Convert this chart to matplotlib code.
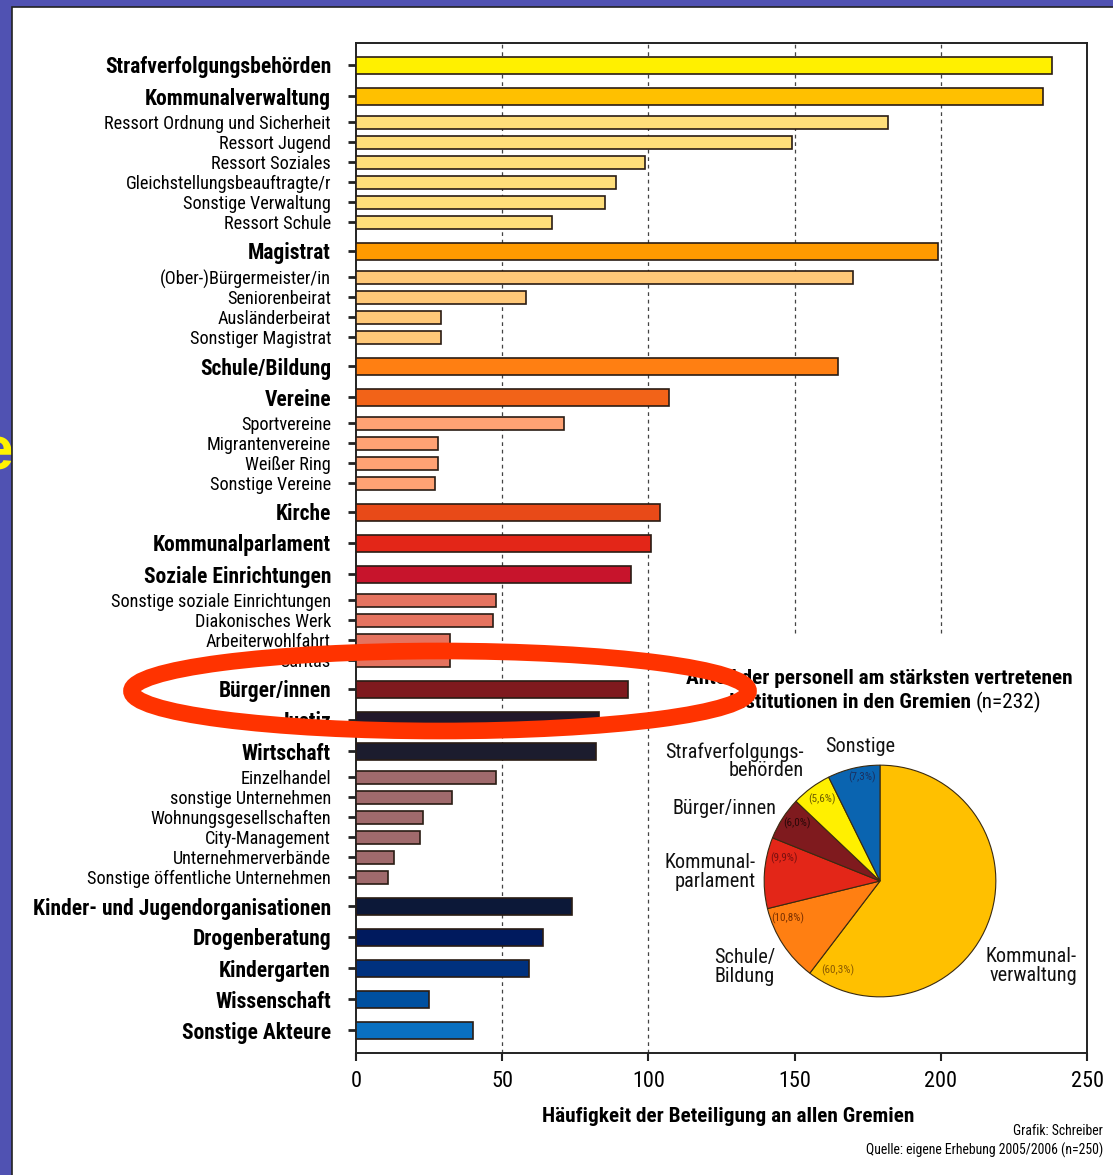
import matplotlib
matplotlib.use('Agg')
import matplotlib.pyplot as plt
from matplotlib import font_manager
from matplotlib.patches import Rectangle, Ellipse

# ---------------- data ----------------
categories = [
    "Strafverfolgungsbehörden", "Kommunalverwaltung", "Ressort Ordnung und Sicherheit",
    "Ressort Jugend", "Ressort Soziales", "Gleichstellungsbeauftragte/r",
    "Sonstige Verwaltung", "Ressort Schule", "Magistrat", "(Ober-)Bürgermeister/in",
    "Seniorenbeirat", "Ausländerbeirat", "Sonstiger Magistrat", "Schule/Bildung",
    "Vereine", "Sportvereine", "Migrantenvereine", "Weißer Ring", "Sonstige Vereine",
    "Kirche", "Kommunalparlament", "Soziale Einrichtungen",
    "Sonstige soziale Einrichtungen", "Diakonisches Werk", "Arbeiterwohlfahrt",
    "Caritas", "Bürger/innen", "Justiz", "Wirtschaft", "Einzelhandel",
    "sonstige Unternehmen", "Wohnungsgesellschaften", "City-Management",
    "Unternehmerverbände", "Sonstige öffentliche Unternehmen",
    "Kinder- und Jugendorganisationen", "Drogenberatung", "Kindergarten",
    "Wissenschaft", "Sonstige Akteure",
]
values = [238, 235, 182, 149, 99, 89, 85, 67, 199, 170, 58, 29, 29, 165,
          107, 71, 28, 28, 27, 104, 101, 94, 48, 47, 32, 32, 93, 83, 82,
          48, 33, 23, 22, 13, 11, 74, 64, 59, 25, 40]
is_main = [1, 1, 0, 0, 0, 0, 0, 0, 1, 0, 0, 0, 0, 1,
           1, 0, 0, 0, 0, 1, 1, 1, 0, 0, 0, 0, 1, 1, 1,
           0, 0, 0, 0, 0, 0, 1, 1, 1, 1, 1]
bar_colors = [
    "#FFF000", "#FFC000", "#FFDE7A", "#FFDE7A", "#FFDE7A", "#FFDE7A", "#FFDE7A", "#FFDE7A",
    "#FF9A00", "#FFC878", "#FFC878", "#FFC878", "#FFC878", "#FF7F12",
    "#F26318", "#FFA274", "#FFA274", "#FFA274", "#FFA274",
    "#E84A18", "#E32618", "#C7142C", "#E5735F", "#E5735F", "#E5735F", "#E5735F",
    "#7F1A1E", "#22182A", "#1C1C2E",
    "#A06A6C", "#A06A6C", "#A06A6C", "#A06A6C", "#A06A6C", "#A06A6C",
    "#0C1838", "#001A5E", "#00317E", "#0050A0", "#0A70C0",
]
x_ticks = [0, 50, 100, 150, 200, 250]
grid_lines = [50, 100, 150, 200]

pie_labels = ["Kommunalverwaltung", "Schule/Bildung", "Kommunalparlament",
              "Bürger/innen", "Strafverfolgungsbehörden", "Sonstige"]
pie_shares = [60.3, 10.8, 9.9, 6.0, 5.6, 7.3]
pie_colors = ["#FFC000", "#FF7F12", "#E32618", "#7F1A1E", "#FFF000", "#0A64B0"]
pie_pct_text = ["(60,3%)", "(10,8%)", "(9,9%)", "(6,0%)", "(5,6%)", "(7,3%)"]

# ---------------- fonts ----------------
names = {f.name for f in font_manager.fontManager.ttflist}
cands = ['Liberation Sans Narrow', 'Roboto Condensed', 'Open Sans Condensed',
         'DejaVu Sans Condensed', 'Noto Sans Condensed', 'Liberation Sans']
FONT = next(c for c in cands if c in names)
plt.rcParams['font.family'] = [FONT, 'DejaVu Sans']

W, H = 1113, 1175
fig = plt.figure(figsize=(W / 100, H / 100), dpi=100)
fig.patch.set_facecolor("#5052B2")
renderer = fig.canvas.get_renderer()

# scale factor so that text widths match the condensed original
probe = fig.text(0, 0, "Ressort Ordnung und Sicherheit", fontsize=14)
pw = probe.get_window_extent(renderer).width
probe.remove()
K = min(1.0, 229.0 / pw)

def fs(v):
    return v * K

# background overlay (pixel coords)
bg = fig.add_axes([0, 0, 1, 1], zorder=0)
bg.set_xlim(0, W); bg.set_ylim(H, 0); bg.axis('off')
bg.text(-20, 470, "e", fontsize=44, fontweight='bold', color="#FFF200",
        ha='left', va='baseline', zorder=1, family='Liberation Sans')
bg.add_patch(Rectangle((12, 7), W, H, facecolor='white', edgecolor='#222222',
                       linewidth=1.2, zorder=2))

# ---------------- bar layout ----------------
GAP = {(1, 1): 31, (1, 0): 26, (0, 0): 20, (0, 1): 29}
pos = [65]
for i in range(1, len(categories)):
    pos.append(pos[-1] + GAP[(is_main[i - 1], is_main[i])])
heights = [17 if m else 13 for m in is_main]

top_px, bot_px, left_px, right_px = 43, 1053, 356, 1087
ax = fig.add_axes([left_px / W, 1 - bot_px / H, (right_px - left_px) / W, (bot_px - top_px) / H],
                  zorder=1)
ax.set_facecolor('none')
ax.set_xlim(0, 250)
ax.set_ylim(bot_px, top_px)

for v in grid_lines:
    ax.axvline(v, color='#444444', linestyle=(0, (3, 3)), linewidth=0.9, zorder=1)

ax.add_patch(Rectangle((104, 636), 146, bot_px - 636, facecolor='white',
                       edgecolor='none', zorder=2))

ax.barh(pos, values, height=heights, color=bar_colors, edgecolor='#2a1c14',
        linewidth=1.2, zorder=3)

ax.set_yticks(pos)
ax.set_yticklabels(categories)
for lab, m in zip(ax.get_yticklabels(), is_main):
    if m:
        lab.set_fontweight('bold')
        lab.set_fontsize(fs(16.5))
    else:
        lab.set_fontsize(fs(14))
ax.tick_params(axis='y', length=6, width=2, pad=12, color='#222222')
ax.set_xticks(x_ticks)
ax.set_xticklabels([str(t) for t in x_ticks], fontsize=fs(17))
ax.tick_params(axis='x', length=6, width=1.5, pad=7, color='#222222')
for s in ax.spines.values():
    s.set_linewidth(1.4)
    s.set_color('#222222')

# ---------------- pie inset ----------------
cx, cy, r = 880, 881, 117
pax = fig.add_axes([(cx - r) / W, 1 - (cy + r) / H, 2 * r / W, 2 * r / H], zorder=3)
pax.pie(pie_shares, colors=pie_colors, startangle=90, counterclock=False,
        wedgeprops=dict(edgecolor='#3a2a10', linewidth=0.8))
pax.set_xlim(-1.01, 1.01); pax.set_ylim(-1.01, 1.01)
pax.set_aspect('equal')
pax.axis('off')

# ---------------- text overlay ----------------
ov = fig.add_axes([0, 0, 1, 1], zorder=4)
ov.set_facecolor('none')
ov.set_xlim(0, W); ov.set_ylim(H, 0); ov.axis('off')

ov.text(879, 679, "Anteil der personell am stärksten vertretenen", fontsize=fs(16.3),
        fontweight='bold', ha='center', va='center')
ov.text(971, 702, "Institutionen in den Gremien", fontsize=fs(16.3),
        fontweight='bold', ha='right', va='center')
ov.text(976, 702, "(n=232)", fontsize=fs(16.3), ha='left', va='center')

lbl_kw = dict(fontsize=fs(15.5), va='center', linespacing=0.95, color='#111111')
ov.text(804, 761, "Strafverfolgungs-\nbehörden", ha='right', **lbl_kw)
ov.text(860, 747, "Sonstige", ha='center', **lbl_kw)
ov.text(776, 809, "Bürger/innen", ha='right', **lbl_kw)
ov.text(756, 872, "Kommunal-\nparlament", ha='right', **lbl_kw)
ov.text(714, 967, "Schule/\nBildung", ha='left', **lbl_kw)
ov.text(1077, 966, "Kommunal-\nverwaltung", ha='right', **lbl_kw)

pct_pos = [(838, 970), (788, 918), (784, 858), (797, 823), (822, 799), (862, 777)]
pct_col = ["#8a5a00", "#7a3000", "#7a1010", "#2a0808", "#6a5a00", "#1a3060"]
for t, (px, py), c in zip(pie_pct_text, pct_pos, pct_col):
    ov.text(px, py, t, fontsize=fs(8.5), ha='center', va='center', color=c)

ov.text(728, 1116, "Häufigkeit der Beteiligung an allen Gremien", fontsize=fs(16.3),
        fontweight='bold', ha='center', va='center')
ov.text(1103, 1131, "Grafik: Schreiber", fontsize=fs(10.5), ha='right', va='center')
ov.text(1103, 1150, "Quelle: eigene Erhebung 2005/2006 (n=250)", fontsize=fs(10.5),
        ha='right', va='center')

ov.add_patch(Ellipse((440, 691), 617, 80, angle=0, facecolor='none',
                     edgecolor='#FF3300', linewidth=12, zorder=10))

fig.savefig("out.png", dpi=100)
